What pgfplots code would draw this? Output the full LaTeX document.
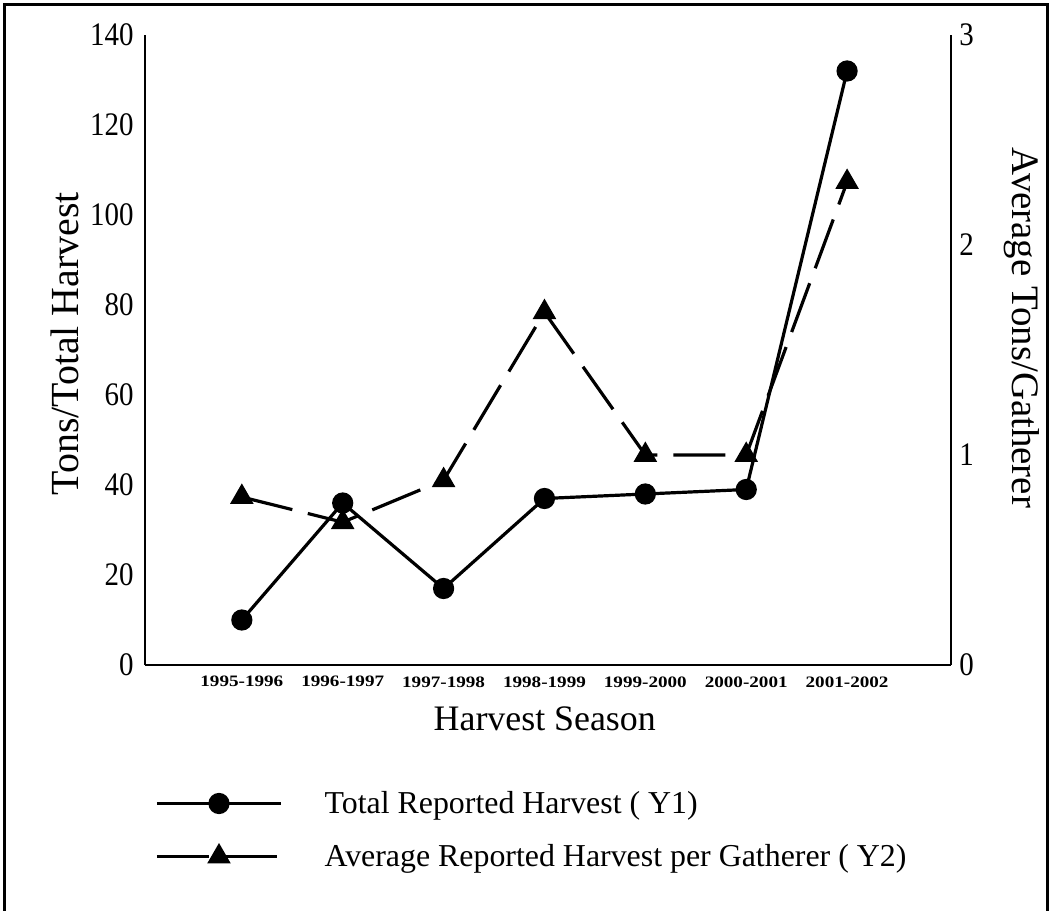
\documentclass[border=0pt]{standalone}
\usepackage{fontspec}
\setmainfont{Liberation Serif}
\newfontfamily\tickfont{Liberation Serif}[FakeStretch=0.88]
\newfontfamily\xfont{Liberation Serif}[FakeStretch=1.2]
\usepackage{pgfplots}
\usepackage{pgfplotstable}
\pgfplotsset{compat=1.18}
\pgfplotstableread{
x y1 y2
0 10 0.80
1 36 0.68
2 17 0.88
3 37 1.68
4 38 1.00
5 39 1.00
6 132 2.30
}\datatable
\begin{document}
\begin{tikzpicture}
\useasboundingbox (-72.5bp,-123bp) rectangle (452.5bp,332.5bp);
\draw[line width=1.5bp] (-70bp,-124bp) -- (-70bp,330bp) -- (451bp,330bp) -- (451bp,-124bp);
\pgfplotsset{
  common/.style={
    width=403bp, height=315bp, scale only axis,
    at={(0,0)}, anchor=south west,
    xmin=-0.96, xmax=7.03,
    major tick length=0pt,
    axis line style={line width=1.25bp},
    clip=false,
    /pgf/number format/assume math mode=true,
  }
}
\begin{axis}[common,
  ymin=0, ymax=140,
  axis x line*=bottom, axis y line*=left,
  xtick={0,1,2,3,4,5,6},
  xticklabels={1995-1996,1996-1997,1997-1998,1998-1999,1999-2000,2000-2001,2001-2002},
  ytick={0,20,40,60,80,100,120,140},
  xticklabel style={font=\xfont\bfseries\fontsize{8}{9}\selectfont, inner sep=0pt, yshift=-5.5bp},
  yticklabel style={font=\tickfont\fontsize{16.5}{18}\selectfont, inner sep=0pt, xshift=-5.5bp},
  ylabel={Tons/Total Harvest},
  every axis y label/.style={at={(axis description cs:-0.0993,0.51)}, rotate=90, anchor=center, font=\fontsize{20}{23}\selectfont},
  xlabel={Harvest Season},
  every axis x label/.style={at={(axis description cs:0.496,-0.085)}, anchor=center, font=\fontsize{18}{21}\selectfont},
]
\addplot[black, line width=1.6bp, mark=*, mark size=4.5bp] table[x=x,y=y1]{\datatable};
\end{axis}
\begin{axis}[common,
  ymin=0, ymax=3,
  axis x line=none, axis y line*=right,
  ytick={0,1,2,3},
  yticklabel style={font=\tickfont\fontsize{16.5}{18}\selectfont, inner sep=0pt, xshift=4bp, anchor=west},
  ylabel={Average Tons/Gatherer},
  every axis y label/.style={at={(axis description cs:1.088,0.535)}, rotate=-90, anchor=center, font=\fontsize{19.5}{23}\selectfont},
  legend style={draw=none, fill=none, at={(axis description cs:0.0124,-0.262)}, anchor=west,
    font=\fontsize{16}{19}\selectfont, row sep=14bp, inner sep=0pt,
    nodes={inner sep=0pt},
    /tikz/every odd column/.style={column sep=21bp}},
  legend cell align=left,
  legend image code/.code={\draw[#1, mark repeat=2, mark phase=2] plot coordinates {(0bp,0bp) (31bp,0bp) (62bp,0bp)};},
]
\addlegendimage{black, line width=1.6bp, mark=*, mark size=4.5bp}
\addlegendentry{Total Reported Harvest ( Y1)}
\addplot[black, line width=1.6bp, dash pattern=on 26bp off 8bp, mark=triangle*, mark size=5.2bp, mark options={solid}] table[x=x,y=y2]{\datatable};
\addlegendentry{Average Reported Harvest per Gatherer ( Y2)}
\end{axis}
\end{tikzpicture}
\end{document}
